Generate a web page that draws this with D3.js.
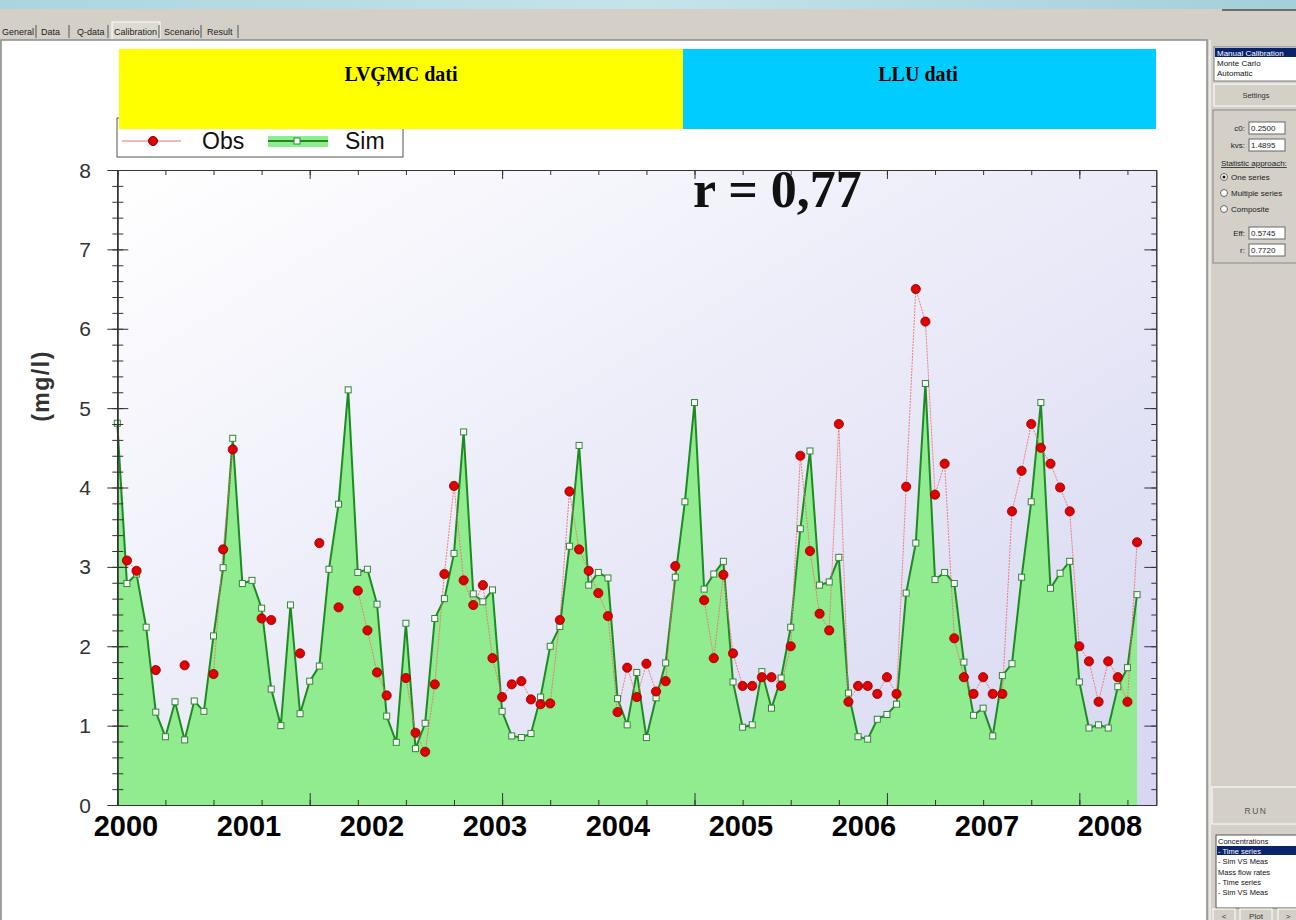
<!DOCTYPE html>
<html>
<head>
<meta charset="utf-8">
<script src="https://cdn.jsdelivr.net/npm/d3@7"></script>
<style>
  body { margin: 0; background: #fff; }
  svg { display: block; font-family: "Liberation Sans", Arial, sans-serif; }
</style>
</head>
<body>
<svg id="chart" width="1296" height="920"></svg>
<script>
// monthly values, Jan 2000 .. Nov 2008 (index = month number)
var sim = [4.81, 2.79, 2.91, 2.24, 1.17, 0.86, 1.30, 0.82, 1.31, 1.18, 2.13, 2.99,
           4.62, 2.79, 2.83, 2.48, 1.46, 1.00, 2.52, 1.15, 1.56, 1.75, 2.97, 3.79,
           5.23, 2.93, 2.97, 2.53, 1.12, 0.79, 2.29, 0.71, 1.03, 2.35, 2.60, 3.17,
           4.70, 2.66, 2.56, 2.71, 1.18, 0.87, 0.85, 0.90, 1.36, 2.00, 2.25, 3.26,
           4.53, 2.77, 2.93, 2.86, 1.34, 1.01, 1.67, 0.85, 1.35, 1.79, 2.87, 3.82,
           5.07, 2.72, 2.91, 3.07, 1.55, 0.98, 1.01, 1.68, 1.22, 1.60, 2.24, 3.48,
           4.46, 2.77, 2.81, 3.12, 1.41, 0.86, 0.83, 1.08, 1.14, 1.27, 2.67, 3.30,
           5.31, 2.84, 2.93, 2.79, 1.80, 1.13, 1.22, 0.87, 1.63, 1.78, 2.87, 3.82,
           5.07, 2.73, 2.92, 3.07, 1.55, 0.97, 1.01, 0.97, 1.49, 1.73, 2.65];
var obs = [null, 3.08, 2.95, null, 1.70, null, null, 1.76, null, null, 1.65, 3.22,
           4.48, null, null, 2.35, 2.33, null, null, 1.91, null, 3.30, null, 2.49,
           null, 2.70, 2.20, 1.67, 1.38, null, 1.60, 0.91, 0.67, 1.52, 2.91, 4.02,
           2.83, 2.52, 2.77, 1.85, 1.36, 1.52, 1.56, 1.33, 1.27, 1.28, 2.33, 3.95,
           3.22, 2.95, 2.67, 2.38, 1.17, 1.73, 1.36, 1.78, 1.43, 1.56, 3.01, null,
           null, 2.58, 1.85, 2.90, 1.91, 1.50, 1.50, 1.61, 1.61, 1.50, 2.00, 4.40,
           3.20, 2.41, 2.20, 4.80, 1.30, 1.50, 1.50, 1.40, 1.61, 1.40, 4.01, 6.50,
           6.09, 3.91, 4.30, 2.10, 1.61, 1.40, 1.61, 1.40, 1.40, 3.70, 4.21, 4.80,
           4.50, 4.30, 4.00, 3.70, 2.00, 1.81, 1.30, 1.81, 1.61, 1.30, 3.31];
var yearLabels = ["2000", "2001", "2002", "2003", "2004", "2005", "2006", "2007", "2008"];
var yMajor = [0, 1, 2, 3, 4, 5, 6, 7, 8];
var tabNames = ["General", "Data", "Q-data", "Calibration", "Scenario", "Result"];
var methodItems = ["Manual Calibration", "Monte Carlo", "Automatic"];
var plotItems = ["Concentrations", "- Time series", "- Sim VS Meas", "Mass flow rates", "- Time series", "- Sim VS Meas"];
var radioItems = ["One series", "Multiple series", "Composite"];

var serif = "'Liberation Serif', 'Times New Roman', serif";
var svg = d3.select("#chart");
var defs = svg.append("defs");

// ---------- window chrome ----------
var sky = defs.append("linearGradient").attr("id", "sky").attr("x1", 0).attr("x2", 1);
sky.append("stop").attr("offset", 0).attr("stop-color", "#a9d6de");
sky.append("stop").attr("offset", 0.5).attr("stop-color", "#c4e4ea");
sky.append("stop").attr("offset", 1).attr("stop-color", "#a2cfd9");
svg.append("rect").attr("width", 1296).attr("height", 920).attr("fill", "#d4d0c8");
svg.append("rect").attr("width", 1296).attr("height", 9).attr("fill", "url(#sky)");
svg.append("line").attr("x1", 1222).attr("x2", 1296).attr("y1", 10).attr("y2", 10)
  .attr("stroke", "#6e6e6e").attr("stroke-width", 2);

// tabs
var tabX = [2, 41, 77, 114, 164, 207];
var tabW = [37, 31, 34, 48, 40, 34];
tabNames.forEach(function(t, i) {
  if (t === "Calibration") {
    svg.append("rect").attr("x", tabX[i] - 2).attr("y", 22).attr("width", tabW[i])
      .attr("height", 18).attr("fill", "#dedad2").attr("stroke", "#fff");
  }
  svg.append("text").attr("x", tabX[i]).attr("y", 35).attr("font-size", 9)
    .attr("fill", "#222").text(t);
  svg.append("line").attr("x1", tabX[i] + tabW[i] - 3).attr("x2", tabX[i] + tabW[i] - 3)
    .attr("y1", 25).attr("y2", 38).attr("stroke", "#555");
});

// main white panel
svg.append("rect").attr("x", 1).attr("y", 40).attr("width", 1206).attr("height", 882)
  .attr("fill", "#fff").attr("stroke", "#8c8c8c").attr("stroke-width", 1.5);

// ---------- chart ----------
var x = d3.scaleLinear().domain([0, 108]).range([117.3, 1156.3]);
var y = d3.scaleLinear().domain([0, 8]).range([805, 170]);

var bg = defs.append("linearGradient").attr("id", "plotbg")
  .attr("x1", 0).attr("y1", 0).attr("x2", 1).attr("y2", 1);
bg.append("stop").attr("offset", 0).attr("stop-color", "#ffffff");
bg.append("stop").attr("offset", 1).attr("stop-color", "#d6d6f2");
svg.append("rect").attr("x", x(0)).attr("y", y(8)).attr("width", x(108) - x(0))
  .attr("height", y(0) - y(8)).attr("fill", "url(#plotbg)");

var simData = sim.map(function(v, i) { return { m: i, v: v }; });
var obsData = obs.map(function(v, i) { return { m: i, v: v }; });

var area = d3.area().x(function(d) { return x(d.m); }).y0(y(0)).y1(function(d) { return y(d.v); });
svg.append("path").datum(simData).attr("d", area).attr("fill", "#90ec8e");

var simLine = d3.line().x(function(d) { return x(d.m); }).y(function(d) { return y(d.v); });
svg.append("path").datum(simData).attr("d", simLine).attr("fill", "none")
  .attr("stroke", "#1f8a24").attr("stroke-width", 2);

var obsLine = d3.line().defined(function(d) { return d.v != null; })
  .x(function(d) { return x(d.m); }).y(function(d) { return y(d.v); });
svg.append("path").datum(obsData).attr("d", obsLine).attr("fill", "none")
  .attr("stroke", "#f07070").attr("stroke-width", 0.9).attr("stroke-dasharray", "2,1");

svg.selectAll("rect.sim").data(simData).enter().append("rect").attr("class", "sim")
  .attr("x", function(d) { return x(d.m) - 3; }).attr("y", function(d) { return y(d.v) - 3; })
  .attr("width", 6).attr("height", 6).attr("fill", "#fff").attr("stroke", "#2f8a34").attr("stroke-width", 1);

svg.selectAll("circle.obs").data(obsData.filter(function(d) { return d.v != null; }))
  .enter().append("circle").attr("class", "obs")
  .attr("cx", function(d) { return x(d.m); }).attr("cy", function(d) { return y(d.v); })
  .attr("r", 4.6).attr("fill", "#e00000").attr("stroke", "#8a0000").attr("stroke-width", 0.8);

// axes
function styleAxis(g) {
  g.selectAll("path").attr("stroke", "#333");
  g.selectAll("line").attr("stroke", "#333");
  g.selectAll("text").remove();
}
var minorY = d3.range(0, 8.01, 0.2);
var monthTicks = d3.range(0, 108.1, 5);
var bigMonthTicks = d3.range(0, 108.1, 20);

svg.append("g").attr("transform", "translate(" + x(0) + ",0)")
  .call(d3.axisLeft(y).tickValues(minorY).tickSize(5).tickSizeOuter(0)).call(styleAxis);
svg.append("g").attr("transform", "translate(" + x(0) + ",0)")
  .call(d3.axisRight(y).tickValues(minorY).tickSize(6).tickSizeOuter(0)).call(styleAxis);
svg.append("g").attr("transform", "translate(" + x(0) + ",0)")
  .call(d3.axisLeft(y).tickValues(yMajor).tickSize(10).tickSizeOuter(0)).call(styleAxis);
svg.append("g").attr("transform", "translate(" + x(0) + ",0)")
  .call(d3.axisRight(y).tickValues(yMajor).tickSize(11).tickSizeOuter(0)).call(styleAxis);
svg.append("g").attr("transform", "translate(" + x(108) + ",0)")
  .call(d3.axisLeft(y).tickValues(minorY).tickSize(5).tickSizeOuter(0)).call(styleAxis);
svg.append("g").attr("transform", "translate(" + x(108) + ",0)")
  .call(d3.axisLeft(y).tickValues(yMajor).tickSize(12).tickSizeOuter(0)).call(styleAxis);
svg.append("g").attr("transform", "translate(0," + y(8) + ")")
  .call(d3.axisBottom(x).tickValues(monthTicks).tickSize(5).tickSizeOuter(0)).call(styleAxis);
svg.append("g").attr("transform", "translate(0," + y(8) + ")")
  .call(d3.axisBottom(x).tickValues(bigMonthTicks).tickSize(9).tickSizeOuter(0)).call(styleAxis);
svg.append("g").attr("transform", "translate(0," + y(0) + ")")
  .call(d3.axisTop(x).tickValues(monthTicks).tickSize(5).tickSizeOuter(0)).call(styleAxis);
svg.append("g").attr("transform", "translate(0," + y(0) + ")")
  .call(d3.axisTop(x).tickValues(bigMonthTicks).tickSize(12).tickSizeOuter(0)).call(styleAxis);

svg.selectAll("text.ytick").data(yMajor).enter().append("text").attr("class", "ytick")
  .attr("x", 91).attr("y", function(d) { return y(d) + 7.5; }).attr("text-anchor", "end")
  .attr("font-size", 21).attr("fill", "#333").text(function(d) { return d; });

svg.append("text").attr("transform", "translate(49,386) rotate(-90)").attr("text-anchor", "middle")
  .attr("font-size", 23).attr("font-weight", "bold").attr("letter-spacing", 1.5)
  .attr("fill", "#333").text("(mg/l)");

var yearX = d3.scaleLinear().domain([0, yearLabels.length - 1]).range([126, 1110]);
svg.selectAll("text.year").data(yearLabels).enter().append("text").attr("class", "year")
  .attr("x", function(d, i) { return yearX(i); }).attr("y", 836).attr("text-anchor", "middle")
  .attr("font-size", 29).attr("font-weight", "bold").attr("fill", "#000").text(function(d) { return d; });

// legend
var lg = svg.append("g");
lg.append("rect").attr("x", 117).attr("y", 118).attr("width", 286).attr("height", 39)
  .attr("fill", "#fff").attr("stroke", "#555");
lg.append("line").attr("x1", 122).attr("x2", 181).attr("y1", 141).attr("y2", 141)
  .attr("stroke", "#f07070").attr("stroke-width", 1);
lg.append("circle").attr("cx", 153).attr("cy", 141).attr("r", 4.5).attr("fill", "#e00000").attr("stroke", "#8a0000");
lg.append("text").attr("x", 202).attr("y", 149).attr("font-size", 23).attr("fill", "#111").text("Obs");
lg.append("rect").attr("x", 268).attr("y", 136).attr("width", 60).attr("height", 11).attr("fill", "#90ec8e");
lg.append("line").attr("x1", 268).attr("x2", 328).attr("y1", 141).attr("y2", 141)
  .attr("stroke", "#1f8a24").attr("stroke-width", 2);
lg.append("rect").attr("x", 294).attr("y", 138).attr("width", 6).attr("height", 6)
  .attr("fill", "#fff").attr("stroke", "#2f8a34");
lg.append("text").attr("x", 345).attr("y", 149).attr("font-size", 23).attr("fill", "#111").text("Sim");

// source boxes
svg.append("rect").attr("x", 119).attr("y", 49).attr("width", 564).attr("height", 80).attr("fill", "#ffff00");
svg.append("rect").attr("x", 683).attr("y", 49).attr("width", 473).attr("height", 80).attr("fill", "#00ccff");
svg.append("text").attr("x", 401).attr("y", 81).attr("text-anchor", "middle")
  .style("font-family", serif).attr("font-weight", "bold")
  .attr("font-size", 20).text("LVĢMC dati");
svg.append("text").attr("x", 918).attr("y", 81).attr("text-anchor", "middle")
  .style("font-family", serif).attr("font-weight", "bold")
  .attr("font-size", 20).text("LLU dati");

svg.append("text").attr("x", 693).attr("y", 207)
  .style("font-family", serif).attr("font-weight", "bold")
  .attr("font-size", 52).attr("fill", "#111").text("r = 0,77");

// ---------- right control panel ----------
var rp = svg.append("g").attr("font-size", 8);
rp.append("line").attr("x1", 1210).attr("x2", 1210).attr("y1", 40).attr("y2", 920).attr("stroke", "#fff");
rp.append("rect").attr("x", 1214).attr("y", 47).attr("width", 84).attr("height", 34)
  .attr("fill", "#fff").attr("stroke", "#7a7a7a");
rp.append("rect").attr("x", 1215).attr("y", 48).attr("width", 82).attr("height", 9).attr("fill", "#0a246a");
methodItems.forEach(function(t, i) {
  rp.append("text").attr("x", 1217).attr("y", 56 + i * 10).attr("font-size", 8)
    .attr("fill", i === 0 ? "#fff" : "#111").text(t);
});
rp.append("rect").attr("x", 1214).attr("y", 84).attr("width", 84).attr("height", 22)
  .attr("fill", "#d4d0c8").attr("stroke", "#fff");
rp.append("text").attr("x", 1256).attr("y", 98).attr("text-anchor", "middle").attr("font-size", 7.5).attr("fill", "#333").text("Settings");
rp.append("rect").attr("x", 1213).attr("y", 110).attr("width", 85).attr("height", 153)
  .attr("fill", "none").attr("stroke", "#888");

var fields = [["c0:", "0.2500", 128], ["kvs:", "1.4895", 145], ["Eff:", "0.5745", 233], ["r:", "0.7720", 250]];
fields.forEach(function(f) {
  rp.append("text").attr("x", 1245).attr("y", f[2] + 3).attr("text-anchor", "end").attr("fill", "#222").text(f[0]);
  rp.append("rect").attr("x", 1249).attr("y", f[2] - 6).attr("width", 36).attr("height", 12)
    .attr("fill", "#fff").attr("stroke", "#666");
  rp.append("text").attr("x", 1251).attr("y", f[2] + 3).attr("fill", "#222").text(f[1]);
});
rp.append("text").attr("x", 1221).attr("y", 166).attr("fill", "#222").attr("text-decoration", "underline").text("Statistic approach:");
radioItems.forEach(function(t, i) {
  var cy = 180 + i * 16;
  rp.append("circle").attr("cx", 1224).attr("cy", cy - 3).attr("r", 3.5).attr("fill", "#fff").attr("stroke", "#666");
  if (i === 0) rp.append("circle").attr("cx", 1224).attr("cy", cy - 3).attr("r", 1.5).attr("fill", "#111");
  rp.append("text").attr("x", 1231).attr("y", cy).attr("fill", "#222").text(t);
});

rp.append("rect").attr("x", 1212).attr("y", 787).attr("width", 86).attr("height", 37)
  .attr("fill", "#d4d0c8").attr("stroke", "#fff");
rp.append("text").attr("x", 1256).attr("y", 814).attr("text-anchor", "middle").attr("font-size", 8.5)
  .attr("letter-spacing", 1.5).attr("fill", "#555").text("RUN");
rp.append("rect").attr("x", 1216).attr("y", 835).attr("width", 82).attr("height", 73)
  .attr("fill", "#fff").attr("stroke", "#555");
rp.append("rect").attr("x", 1217).attr("y", 846).attr("width", 80).attr("height", 9).attr("fill", "#0a246a");
plotItems.forEach(function(t, i) {
  rp.append("text").attr("x", 1218).attr("y", 844 + i * 10.2).attr("font-size", 7.5)
    .attr("fill", i === 1 ? "#fff" : "#111").text(t);
});
var navBtns = [["<", 1213, 22], ["Plot", 1240, 32], [">", 1278, 20]];
navBtns.forEach(function(b) {
  rp.append("rect").attr("x", b[1]).attr("y", 909).attr("width", b[2]).attr("height", 14)
    .attr("fill", "#d4d0c8").attr("stroke", "#fff");
  rp.append("text").attr("x", b[1] + b[2] / 2).attr("y", 919).attr("text-anchor", "middle")
    .attr("font-size", 8).attr("fill", "#333").text(b[0]);
});
</script>
</body>
</html>
